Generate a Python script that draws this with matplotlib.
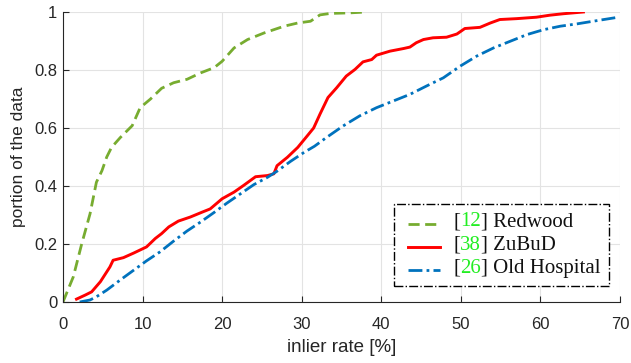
import matplotlib
matplotlib.use('Agg')
import matplotlib.pyplot as plt
from matplotlib.offsetbox import (AnchoredOffsetbox, DrawingArea, HPacker,
                                  TextArea, VPacker)
from matplotlib.lines import Line2D

# curves, inlier rate [%] vs portion of the data
redwood_x = [0, 1.3, 2.35, 3.4, 4.2, 4.9, 5.5, 6.1, 7.2, 8.7, 9.7, 11, 12.4,
             13.9, 15.6, 17.3, 19, 20, 21.5, 23.2, 25.3, 27.8, 29.5, 31.1,
             32.3, 33.6, 36.1, 38.2]
redwood_y = [0, 0.087, 0.2, 0.304, 0.413, 0.453, 0.5, 0.533, 0.567, 0.608,
             0.67, 0.7, 0.737, 0.756, 0.768, 0.79, 0.808, 0.83, 0.876, 0.905,
             0.928, 0.951, 0.962, 0.968, 0.99, 0.995, 0.997, 1.0]

zubud_x = [1.7, 2.8, 3.6, 4.7, 5.5, 5.9, 6.3, 7.6, 8.9, 10.5, 11.6, 12.4, 13.3,
           14.5, 16, 17.5, 18.5, 20, 21.5, 22.7, 24.2, 25.7, 26.5, 26.9, 28.2,
           29.5, 30.7, 31.5, 32.3, 33.3, 34.4, 35.6, 36.7, 37.7, 38.8, 39.4,
           41.1, 42.8, 43.6, 44.4, 45.3, 46.5, 48.2, 49.5, 50.5, 52.4, 53.7,
           54.9, 57.0, 59.5, 61.2, 62.9, 65.4]
zubud_y = [0.01, 0.024, 0.035, 0.07, 0.104, 0.121, 0.144, 0.153, 0.169, 0.19,
           0.219, 0.236, 0.259, 0.279, 0.293, 0.31, 0.321, 0.356, 0.379, 0.402,
           0.432, 0.436, 0.442, 0.47, 0.499, 0.533, 0.573, 0.6, 0.648, 0.705,
           0.739, 0.779, 0.802, 0.828, 0.836, 0.851, 0.865, 0.874, 0.879,
           0.894, 0.905, 0.911, 0.913, 0.924, 0.943, 0.947, 0.962, 0.974,
           0.977, 0.982, 0.989, 0.994, 1.0]

hospital_x = [2.1, 3.4, 4.2, 5.5, 7.2, 8.9, 10.5, 12.2, 13.9, 15.6, 17.3, 19,
              20.6, 22.3, 24, 25.7, 26.9, 28.6, 30.3, 31.6, 33.1, 35.2, 37.3,
              39.4, 41.5, 43.6, 45.7, 47.8, 49.9, 52.0, 54.1, 56.2, 58.3, 60.4,
              62.5, 64.6, 66.6, 69.8]
hospital_y = [0, 0.007, 0.018, 0.041, 0.076, 0.11, 0.142, 0.173, 0.21, 0.245,
              0.276, 0.309, 0.341, 0.373, 0.405, 0.43, 0.451, 0.485, 0.516,
              0.537, 0.567, 0.607, 0.642, 0.67, 0.693, 0.716, 0.745, 0.773,
              0.813, 0.848, 0.876, 0.899, 0.922, 0.939, 0.951, 0.959, 0.968,
              0.982]

refs = ['12', '38', '26']
names = ['Redwood', 'ZuBuD', 'Old Hospital']
colors = ['#77AC30', '#FF0000', '#0072BD']
styles = [(0, (4, 2)), '-', (0, (5, 1.5, 1, 1.5))]
widths = [2.0, 2.1, 2.0]

plt.rcParams['font.family'] = ['Liberation Sans', 'DejaVu Sans']

fig = plt.figure(figsize=(6.31, 3.63), dpi=100)
ax = fig.add_axes([0.0998, 0.168, 0.8828, 0.799])

series = [(redwood_x, redwood_y), (zubud_x, zubud_y), (hospital_x, hospital_y)]
for (xs, ys), c, ls, lw in zip(series, colors, styles, widths):
    ax.plot(xs, ys, color=c, linestyle=ls, linewidth=lw)

ax.set_xlim(0, 70)
ax.set_ylim(0, 1)
ax.set_xticks(range(0, 71, 10))
ax.set_yticks([0, 0.2, 0.4, 0.6, 0.8, 1])
ax.set_yticklabels(['0', '0.2', '0.4', '0.6', '0.8', '1'])
ax.grid(True, color='#e3e3e3', linewidth=0.8)
ax.set_axisbelow(True)
for s in ['top', 'right']:
    ax.spines[s].set_visible(False)
for s in ['left', 'bottom']:
    ax.spines[s].set_color('#262626')
    ax.spines[s].set_linewidth(0.8)
ax.tick_params(direction='in', length=4, labelsize=12, colors='#262626')
ax.tick_params(axis='y', pad=4)
ax.tick_params(axis='x', pad=11)
ax.set_xlabel('inlier rate [%]', fontsize=13.5, color='#262626', labelpad=5)
ax.set_ylabel('portion of the data', fontsize=12.5, color='#262626',
              labelpad=6)

# legend with coloured reference numbers
serif = dict(family='Liberation Serif', size=15)
rows = []
for r, n, c, ls, lw in zip(refs, names, colors, styles, widths):
    da = DrawingArea(27, 12, 0, 0)
    da.add_artist(Line2D([4, 27], [4.5, 4.5], color=c, linestyle=ls,
                         linewidth=lw))
    txt = HPacker(children=[
        TextArea('[', textprops=dict(color='#111111', **serif)),
        TextArea(r, textprops=dict(color='#22ee22', **serif)),
        TextArea('] ' + n, textprops=dict(color='#111111', **serif)),
    ], pad=0, sep=0)
    rows.append(HPacker(children=[da, txt], pad=0, sep=10, align='center'))
box = VPacker(children=rows, pad=0, sep=3, align='left')
leg = AnchoredOffsetbox(loc='lower right', child=box, pad=0.6, borderpad=0,
                        frameon=True, prop=dict(size=10),
                        bbox_to_anchor=(0.980, 0.055),
                        bbox_transform=ax.transAxes)
leg.patch.set_linestyle('-.')
leg.patch.set_edgecolor('black')
leg.patch.set_linewidth(1.0)
leg.patch.set_boxstyle('square', pad=0)
ax.add_artist(leg)

fig.savefig('out.png', dpi=100)
